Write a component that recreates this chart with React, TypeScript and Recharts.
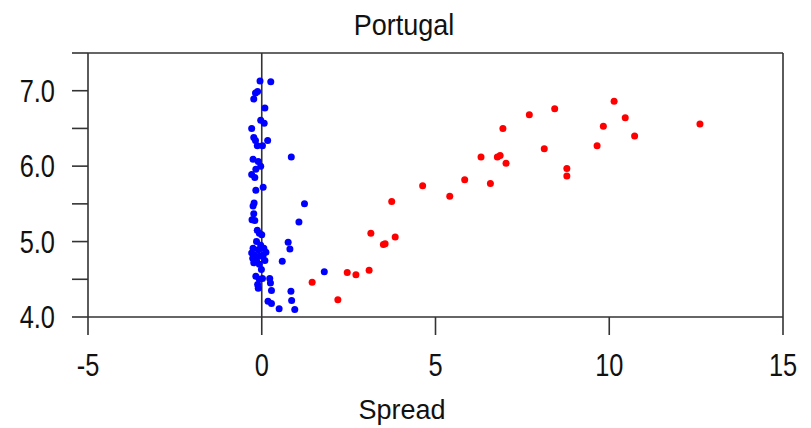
import React from "react";
import { ScatterChart, Scatter, XAxis, YAxis, ReferenceLine } from "recharts";

const title = "Portugal";
const xLabel = "Spread";
const xTicks = [-5, 0, 5, 10, 15];
const yTicks = [4, 4.5, 5, 5.5, 6, 6.5, 7, 7.5];

const blueX = [
  -0.05, 0.26, -0.12, -0.18, -0.23, 0.09, -0.03, 0.07, -0.29, -0.23, -0.18, 0.17, -0.13, 0.02,
  0.85, -0.25, -0.1, -0.03, -0.17, -0.29, -0.2, 0.04, -0.17, -0.22, -0.25, 1.23, -0.23, -0.28,
  -0.2, 1.07, -0.13, -0.07, 0.0, 0.76, 0.81, 0.09, 0.59, 1.8, -0.01, -0.17, -0.07, 0.02, 0.23,
  -0.12, 0.25, -0.1, 0.28, 0.84, 0.86, 0.18, 0.28, 0.5, 0.95,
  -0.15, -0.03, -0.25, -0.1, 0.06, 0.12, -0.29, -0.2, -0.05, -0.26, -0.15, -0.23, -0.07, 0.04,
];
const blueY = [
  7.13, 7.12, 6.99, 6.97, 6.89, 6.77, 6.61, 6.57, 6.5, 6.38, 6.34, 6.34, 6.27, 6.27,
  6.12, 6.09, 6.06, 6.0, 5.96, 5.89, 5.85, 5.72, 5.68, 5.51, 5.47, 5.5, 5.37, 5.29,
  5.28, 5.26, 5.15, 5.11, 5.09, 4.99, 4.9, 4.75, 4.74, 4.6, 4.63, 4.54, 4.5, 4.51, 4.51,
  4.43, 4.45, 4.38, 4.35, 4.34, 4.22, 4.21, 4.18, 4.11, 4.1,
  5.0, 4.95, 4.91, 4.89, 4.91, 4.86, 4.85, 4.82, 4.81, 4.78, 4.75, 4.72, 4.7, 4.82,
];

const redX = [
  1.45, 2.19, 2.46, 2.71, 3.09, 3.14, 3.5, 3.55, 3.84, 3.74, 4.63, 5.41, 5.84, 6.58, 6.31,
  6.78, 6.86, 7.03, 6.94, 7.7, 8.43, 8.13, 8.78, 8.78, 9.65, 9.83, 10.14, 10.46, 10.73, 12.61,
];
const redY = [
  4.46, 4.23, 4.59, 4.56, 4.62, 5.11, 4.96, 4.97, 5.06, 5.53, 5.74, 5.6, 5.82, 5.77, 6.12,
  6.12, 6.14, 6.04, 6.5, 6.68, 6.76, 6.23, 5.97, 5.87, 6.27, 6.53, 6.86, 6.64, 6.4, 6.56,
];

const bluePts = blueX.map((x, i) => ({ x, y: blueY[i] }));
const redPts = redX.map((x, i) => ({ x, y: redY[i] }));

const LINE = "#333333";
const FONT = "'Liberation Sans', Arial, sans-serif";

const Dot = (color: string) => (props: any) => (
  <circle cx={props.cx} cy={props.cy} r={3.5} fill={color} />
);

const XTick = (props: any) => {
  const { x, y, payload } = props;
  return (
    <g transform={`translate(${x},${y + 39}) scale(0.82,1)`}>
      <text x={0} y={0} textAnchor="middle" fontSize={31} fontFamily={FONT} fill="#111">
        {String(payload.value)}
      </text>
    </g>
  );
};

const YTick = (props: any) => {
  const { x, y, payload } = props;
  const v = payload.value;
  if (!Number.isInteger(v)) return null;
  return (
    <g transform={`translate(${x - 15},${y + 11}) scale(0.82,1)`}>
      <text x={0} y={0} textAnchor="end" fontSize={31} fontFamily={FONT} fill="#111">
        {v.toFixed(1)}
      </text>
    </g>
  );
};

export default function App() {
  return (
    <div style={{ position: "absolute", left: 0, top: 0, width: 811, height: 428, background: "#fff" }}>
      <ScatterChart width={811} height={428} margin={{ top: 53, right: 28, bottom: 0, left: 0 }}>
        <XAxis
          type="number"
          dataKey="x"
          domain={[-5, 15]}
          ticks={xTicks}
          allowDataOverflow
          height={111}
          tickSize={18}
          tickLine={{ stroke: LINE, strokeWidth: 1.6 }}
          axisLine={{ stroke: LINE, strokeWidth: 1.6 }}
          tick={<XTick />}
          interval={0}
        />
        <YAxis
          type="number"
          dataKey="y"
          domain={[4, 7.5]}
          ticks={yTicks}
          allowDataOverflow
          width={88}
          tickSize={16}
          tickLine={{ stroke: LINE, strokeWidth: 1.6 }}
          axisLine={{ stroke: LINE, strokeWidth: 1.6 }}
          tick={<YTick />}
          interval={0}
        />
        <ReferenceLine x={0} stroke={LINE} strokeWidth={1.6} />
        <ReferenceLine x={15} stroke={LINE} strokeWidth={1.6} />
        <ReferenceLine y={7.5} stroke={LINE} strokeWidth={1.6} />
        <Scatter data={bluePts} fill="#0000ff" shape={Dot("#0000ff")} isAnimationActive={false} />
        <Scatter data={redPts} fill="#ff0000" shape={Dot("#ff0000")} isAnimationActive={false} />
      </ScatterChart>
      <svg
        width={811}
        height={428}
        style={{ position: "absolute", left: 0, top: 0, pointerEvents: "none" }}
      >
        <g transform="translate(404,35) scale(0.9,1)">
          <text x={0} y={0} textAnchor="middle" fontSize={30} fontFamily={FONT} fill="#111">
            {title}
          </text>
        </g>
        <text x={402} y={419} textAnchor="middle" fontSize={27} fontFamily={FONT} fill="#111">
          {xLabel}
        </text>
      </svg>
    </div>
  );
}
